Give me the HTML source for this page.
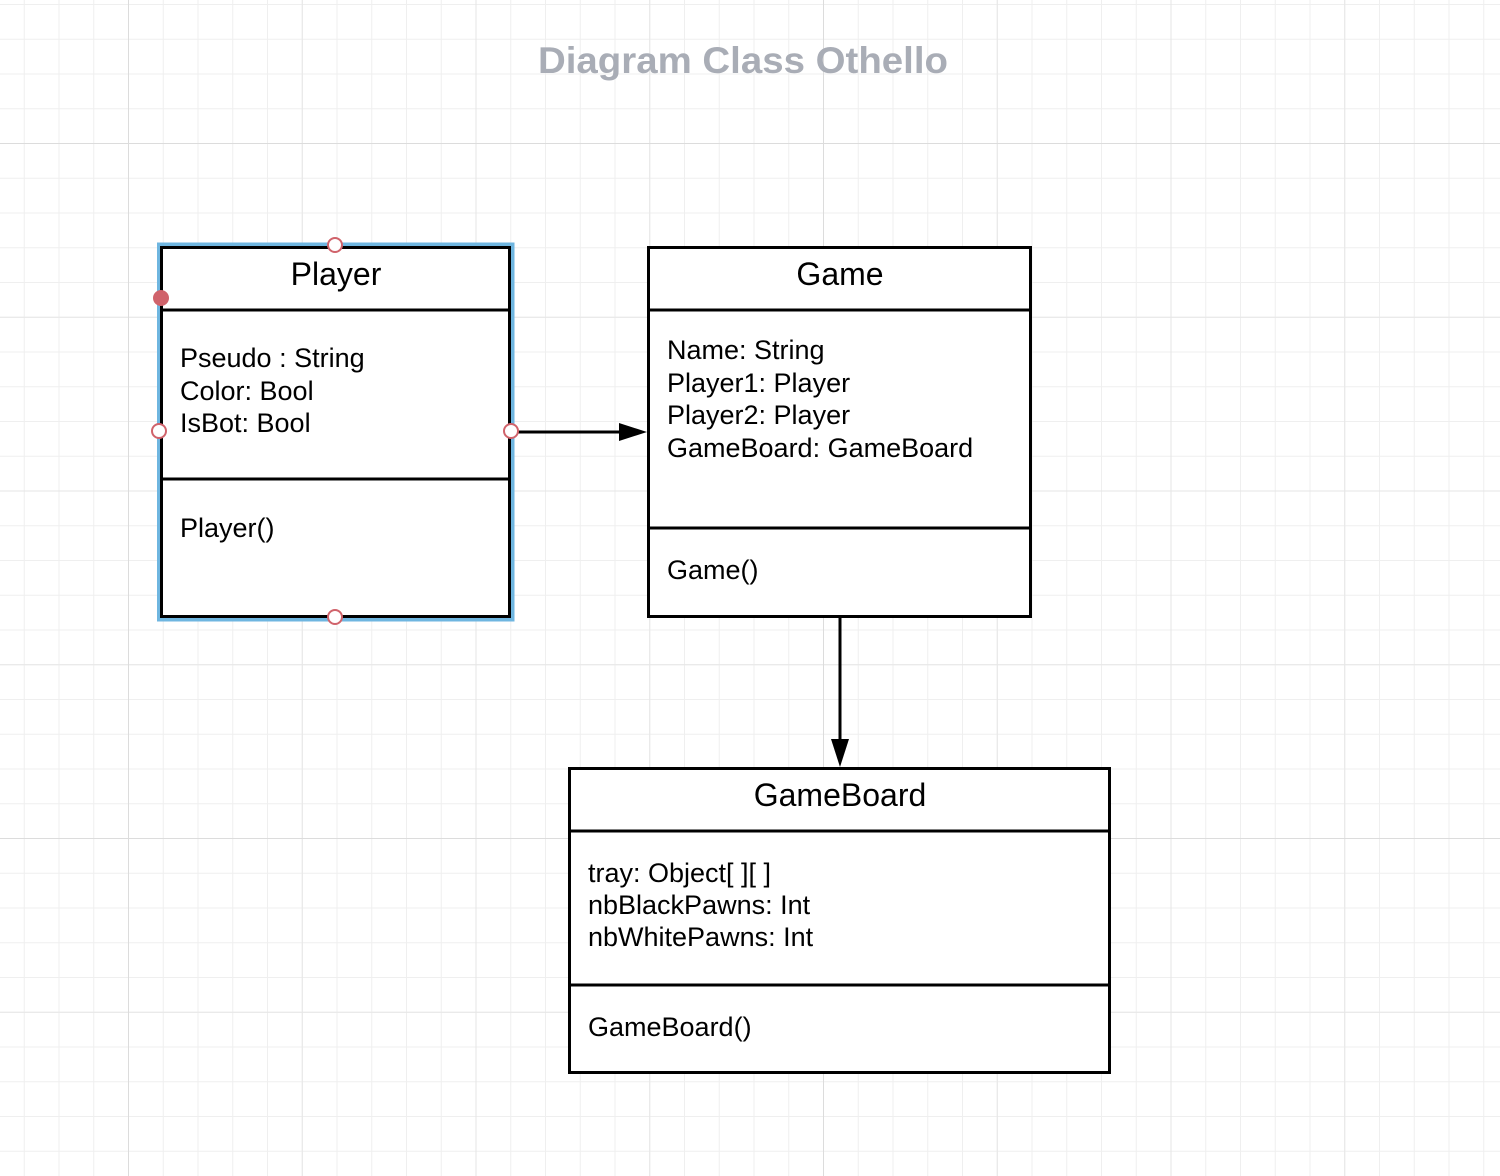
<!DOCTYPE html>
<html><head><meta charset="utf-8"><style>
html,body{margin:0;padding:0;background:#fff;}
svg{display:block;}
text{font-family:"Liberation Sans",Arial,sans-serif;}
</style></head><body>
<svg width="1500" height="1176" viewBox="0 0 1500 1176" xmlns="http://www.w3.org/2000/svg">
<defs>
<pattern id="minor" x="128" y="143" width="34.75" height="34.75" patternUnits="userSpaceOnUse">
<path d="M0 0V34.75M0 0H34.75" stroke="#efefef" stroke-width="2" fill="none"/>
</pattern>
<pattern id="med" x="128" y="143" width="173.75" height="173.75" patternUnits="userSpaceOnUse">
<path d="M0 0V173.75M0 0H173.75" stroke="#e6e6e6" stroke-width="2" fill="none"/>
</pattern>
<pattern id="major" x="128" y="143" width="695" height="695" patternUnits="userSpaceOnUse">
<path d="M0 0V695M0 0H695" stroke="#dcdcdc" stroke-width="2" fill="none"/>
</pattern>
</defs>
<rect width="1500" height="1176" fill="#fff"/>
<rect width="1500" height="1176" fill="url(#minor)"/>
<rect width="1500" height="1176" fill="url(#med)"/>
<rect width="1500" height="1176" fill="url(#major)"/>

<text x="743" y="73" text-anchor="middle" font-size="37" font-weight="bold" fill="#a9adb6" textLength="410" lengthAdjust="spacingAndGlyphs">Diagram Class Othello</text>

<!-- Player -->
<rect x="159" y="244.5" width="353.5" height="375" fill="none" stroke="#6fb6e0" stroke-width="4"/>
<rect x="161.5" y="247.5" width="348" height="369" fill="#fff" stroke="#000" stroke-width="3"/>
<line x1="161" y1="310" x2="510" y2="310" stroke="#000" stroke-width="3"/>
<line x1="161" y1="479" x2="510" y2="479" stroke="#000" stroke-width="3"/>
<text x="336" y="285" text-anchor="middle" font-size="32">Player</text>
<text font-size="27"><tspan x="180" y="367">Pseudo : String</tspan><tspan x="180" y="400">Color: Bool</tspan><tspan x="180" y="432">IsBot: Bool</tspan></text>
<text x="180" y="537" font-size="27">Player()</text>

<!-- Game -->
<rect x="648.5" y="247.5" width="382" height="369" fill="#fff" stroke="#000" stroke-width="3"/>
<line x1="648" y1="310" x2="1031" y2="310" stroke="#000" stroke-width="3"/>
<line x1="648" y1="528" x2="1031" y2="528" stroke="#000" stroke-width="3"/>
<text x="840" y="285" text-anchor="middle" font-size="32">Game</text>
<text font-size="27"><tspan x="667" y="359">Name: String</tspan><tspan x="667" y="392">Player1: Player</tspan><tspan x="667" y="424">Player2: Player</tspan><tspan x="667" y="457">GameBoard: GameBoard</tspan></text>
<text x="667" y="579" font-size="27">Game()</text>

<!-- GameBoard -->
<rect x="569.5" y="768.5" width="540" height="304" fill="#fff" stroke="#000" stroke-width="3"/>
<line x1="569" y1="831" x2="1110" y2="831" stroke="#000" stroke-width="3"/>
<line x1="569" y1="985" x2="1110" y2="985" stroke="#000" stroke-width="3"/>
<text x="840" y="806" text-anchor="middle" font-size="32">GameBoard</text>
<text font-size="27"><tspan x="588" y="882">tray: Object[ ][ ]</tspan><tspan x="588" y="914">nbBlackPawns: Int</tspan><tspan x="588" y="946">nbWhitePawns: Int</tspan></text>
<text x="588" y="1036" font-size="27">GameBoard()</text>

<!-- connectors -->
<line x1="511" y1="432" x2="622" y2="432" stroke="#000" stroke-width="3"/>
<polygon points="619,423 647,432 619,441" fill="#000"/>
<line x1="840" y1="617" x2="840" y2="742" stroke="#000" stroke-width="3"/>
<polygon points="831,739 840,767 849,739" fill="#000"/>

<!-- handles -->
<circle cx="335" cy="245" r="7" fill="#fff" stroke="#d0636b" stroke-width="2"/>
<circle cx="335" cy="617" r="7" fill="#fff" stroke="#d0636b" stroke-width="2"/>
<circle cx="159" cy="431" r="7" fill="#fff" stroke="#d0636b" stroke-width="2"/>
<circle cx="511" cy="431" r="7" fill="#fff" stroke="#d0636b" stroke-width="2"/>
<circle cx="161" cy="298" r="8" fill="#d0636b"/>
</svg>
</body></html>
